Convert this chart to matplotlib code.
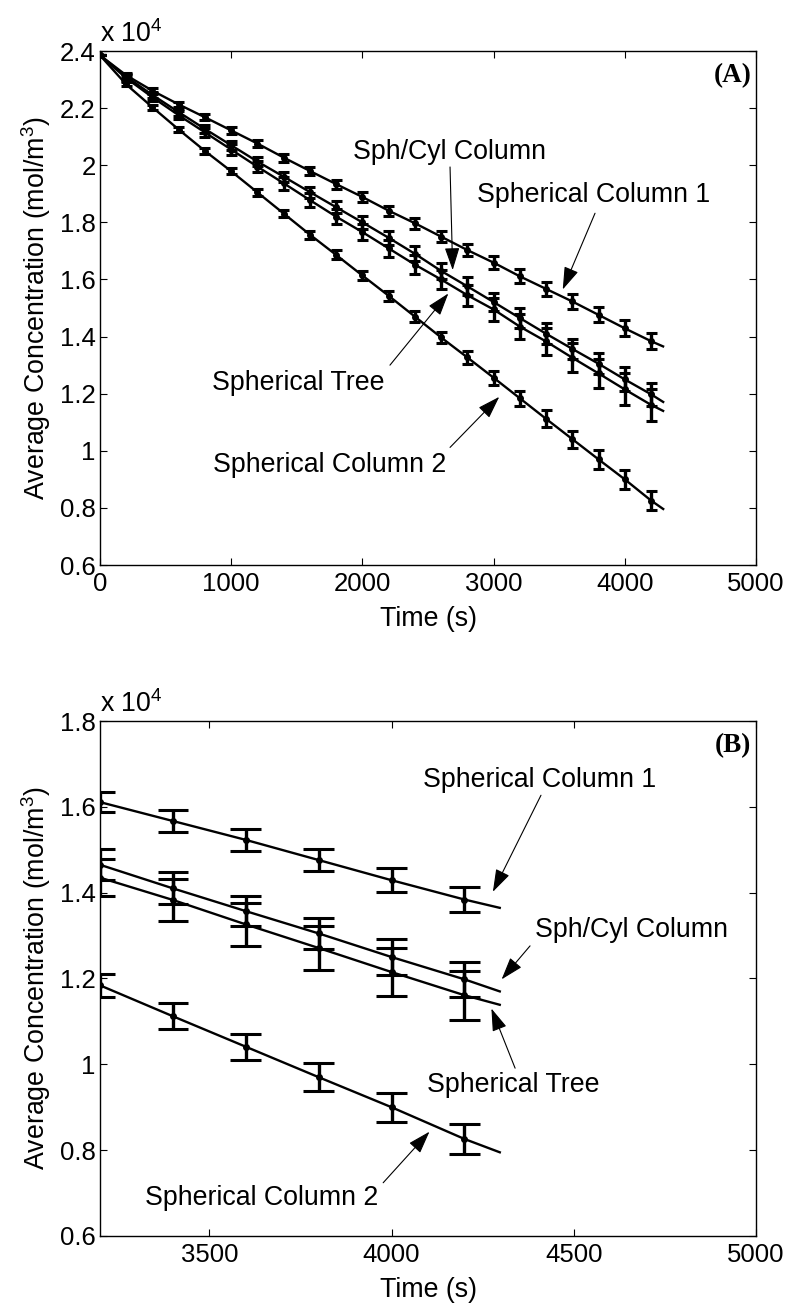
import numpy as np
import matplotlib
matplotlib.use("Agg")
import matplotlib.pyplot as plt

plt.rcParams["font.family"] = ["Liberation Sans", "DejaVu Sans"]
plt.rcParams["mathtext.default"] = "regular"

# Sampling times (s)
time_s = [0, 200, 400, 600, 800, 1000, 1200, 1400, 1600, 1800, 2000,
          2200, 2400, 2600, 2800, 3000, 3200, 3400, 3600, 3800, 4000, 4200]

# Mean concentration, units of 1e4 mol/m^3
col1_mean = [2.385, 2.315, 2.261, 2.213, 2.168, 2.122, 2.076, 2.027, 1.980, 1.934, 1.889,
             1.841, 1.797, 1.750, 1.703, 1.659, 1.611, 1.567, 1.523, 1.476, 1.429, 1.384]
sphcyl_mean = [2.385, 2.310, 2.246, 2.186, 2.127, 2.070, 2.013, 1.960, 1.906, 1.853, 1.800,
               1.746, 1.690, 1.630, 1.576, 1.521, 1.465, 1.410, 1.357, 1.305, 1.250, 1.198]
tree_mean = [2.385, 2.305, 2.238, 2.175, 2.115, 2.055, 1.995, 1.937, 1.878, 1.820, 1.766,
             1.709, 1.652, 1.600, 1.545, 1.495, 1.435, 1.383, 1.326, 1.271, 1.215, 1.161]
col2_mean = [2.385, 2.283, 2.203, 2.125, 2.050, 1.979, 1.905, 1.831, 1.757, 1.686, 1.614,
             1.543, 1.470, 1.397, 1.327, 1.256, 1.184, 1.112, 1.041, 0.970, 0.900, 0.826]

# Standard deviations, units of 1e4 mol/m^3
col1_err = [0.0, 0.008, 0.009, 0.010, 0.011, 0.012, 0.013, 0.014, 0.015, 0.016, 0.017,
            0.018, 0.019, 0.020, 0.021, 0.022, 0.024, 0.025, 0.025, 0.026, 0.028, 0.029]
sphcyl_err = [0.0, 0.008, 0.010, 0.012, 0.013, 0.015, 0.016, 0.018, 0.019, 0.021, 0.023,
              0.025, 0.027, 0.029, 0.031, 0.033, 0.036, 0.037, 0.035, 0.037, 0.042, 0.041]
tree_err = [0.0, 0.010, 0.012, 0.014, 0.016, 0.018, 0.020, 0.022, 0.024, 0.026, 0.028,
            0.030, 0.032, 0.034, 0.037, 0.040, 0.043, 0.048, 0.050, 0.052, 0.056, 0.057]
col2_err = [0.0, 0.007, 0.008, 0.009, 0.010, 0.011, 0.012, 0.013, 0.014, 0.016, 0.017,
            0.018, 0.019, 0.020, 0.022, 0.024, 0.027, 0.030, 0.030, 0.032, 0.034, 0.034]

# Model curves continue past the last sample
model_end_time = 4300
col1_model_end = 1.364
sphcyl_model_end = 1.169
tree_model_end = 1.138
col2_model_end = 0.794

series = [
    ("Spherical Column 1", col1_mean, col1_err, col1_model_end),
    ("Sph/Cyl Column", sphcyl_mean, sphcyl_err, sphcyl_model_end),
    ("Spherical Tree", tree_mean, tree_err, tree_model_end),
    ("Spherical Column 2", col2_mean, col2_err, col2_model_end),
]

FS = 19.3
TICK_FS = 18.5
fig = plt.figure(figsize=(7.88, 13.05), dpi=100)
ax_a = fig.add_axes([0.1269, 0.5670, 0.8325, 0.3939])
ax_b = fig.add_axes([0.1269, 0.0529, 0.8325, 0.3946])

t = np.asarray(time_s, dtype=float)
tee = (t.max() - t.min()) / 100.0


def draw_series(ax):
    for name, mean, err, end in series:
        m = np.asarray(mean)
        e = np.asarray(err)
        ax.plot(list(t) + [model_end_time], list(m) + [end], color="black", lw=1.7,
                solid_capstyle="butt")
        ax.vlines(t, m - e, m + e, color="black", lw=2.4)
        ax.hlines(m - e, t - tee, t + tee, color="black", lw=2.2)
        ax.hlines(m + e, t - tee, t + tee, color="black", lw=2.2)
        ax.plot(t, m, ls="none", marker=".", ms=8, color="black")


def style_axes(ax, xlim, ylim, xticks, yticks, tag):
    ax.set_xlim(*xlim)
    ax.set_ylim(*ylim)
    ax.set_xticks(xticks)
    ax.set_yticks(yticks)
    ax.set_yticklabels(["%g" % v for v in yticks])
    ax.tick_params(direction="in", length=5, width=0.8, top=True, right=True,
                   labelsize=TICK_FS)
    ax.tick_params(axis="x", pad=5)
    ax.tick_params(axis="y", pad=3)
    for sp in ax.spines.values():
        sp.set_linewidth(1.0)
    ax.set_xlabel("Time (s)", fontsize=FS, labelpad=7)
    ax.set_ylabel("Average Concentration (mol/m$^3$)", fontsize=FS, labelpad=5)
    ax.text(0.0, 1.006, "x 10$^4$", transform=ax.transAxes, fontsize=FS,
            ha="left", va="bottom")
    ax.text(0.993, 0.976, tag, transform=ax.transAxes, ha="right", va="top",
            fontsize=19.5, fontweight="bold", family=["Liberation Serif", "DejaVu Serif"])


def label(ax, text, text_xy, tail, tip):
    ax.text(text_xy[0], text_xy[1], text, fontsize=FS, ha="left", va="center")
    ax.annotate("", xy=tip, xytext=tail,
                arrowprops=dict(arrowstyle="-|>,head_length=1.0,head_width=0.33",
                                mutation_scale=14, color="black", lw=0.8,
                                shrinkA=0, shrinkB=0))


# Panel A: full run
draw_series(ax_a)
style_axes(ax_a, (0, 5000), (0.6, 2.4), [0, 1000, 2000, 3000, 4000, 5000],
           [0.6, 0.8, 1.0, 1.2, 1.4, 1.6, 1.8, 2.0, 2.2, 2.4], "(A)")
label(ax_a, "Sph/Cyl Column", (1928, 2.046), (2668, 1.994), (2688, 1.633))
label(ax_a, "Spherical Column 1", (2871, 1.896), (3773, 1.832), (3527, 1.565))
label(ax_a, "Spherical Tree", (851, 1.237), (2210, 1.300), (2655, 1.551))
label(ax_a, "Spherical Column 2", (861, 0.950), (2668, 1.012), (3043, 1.189))

# Panel B: late-time detail
draw_series(ax_b)
style_axes(ax_b, (3200, 5000), (0.6, 1.8), [3500, 4000, 4500, 5000],
           [0.6, 0.8, 1.0, 1.2, 1.4, 1.6, 1.8], "(B)")
label(ax_b, "Spherical Column 1", (4087, 1.662), (4410, 1.627), (4278, 1.402))
label(ax_b, "Sph/Cyl Column", (4394, 1.313), (4380, 1.276), (4302, 1.198))
label(ax_b, "Spherical Tree", (4098, 0.952), (4339, 0.991), (4274, 1.130))
label(ax_b, "Spherical Column 2", (3323, 0.689), (3977, 0.724), (4104, 0.843))

fig.savefig("out.png", dpi=100)
